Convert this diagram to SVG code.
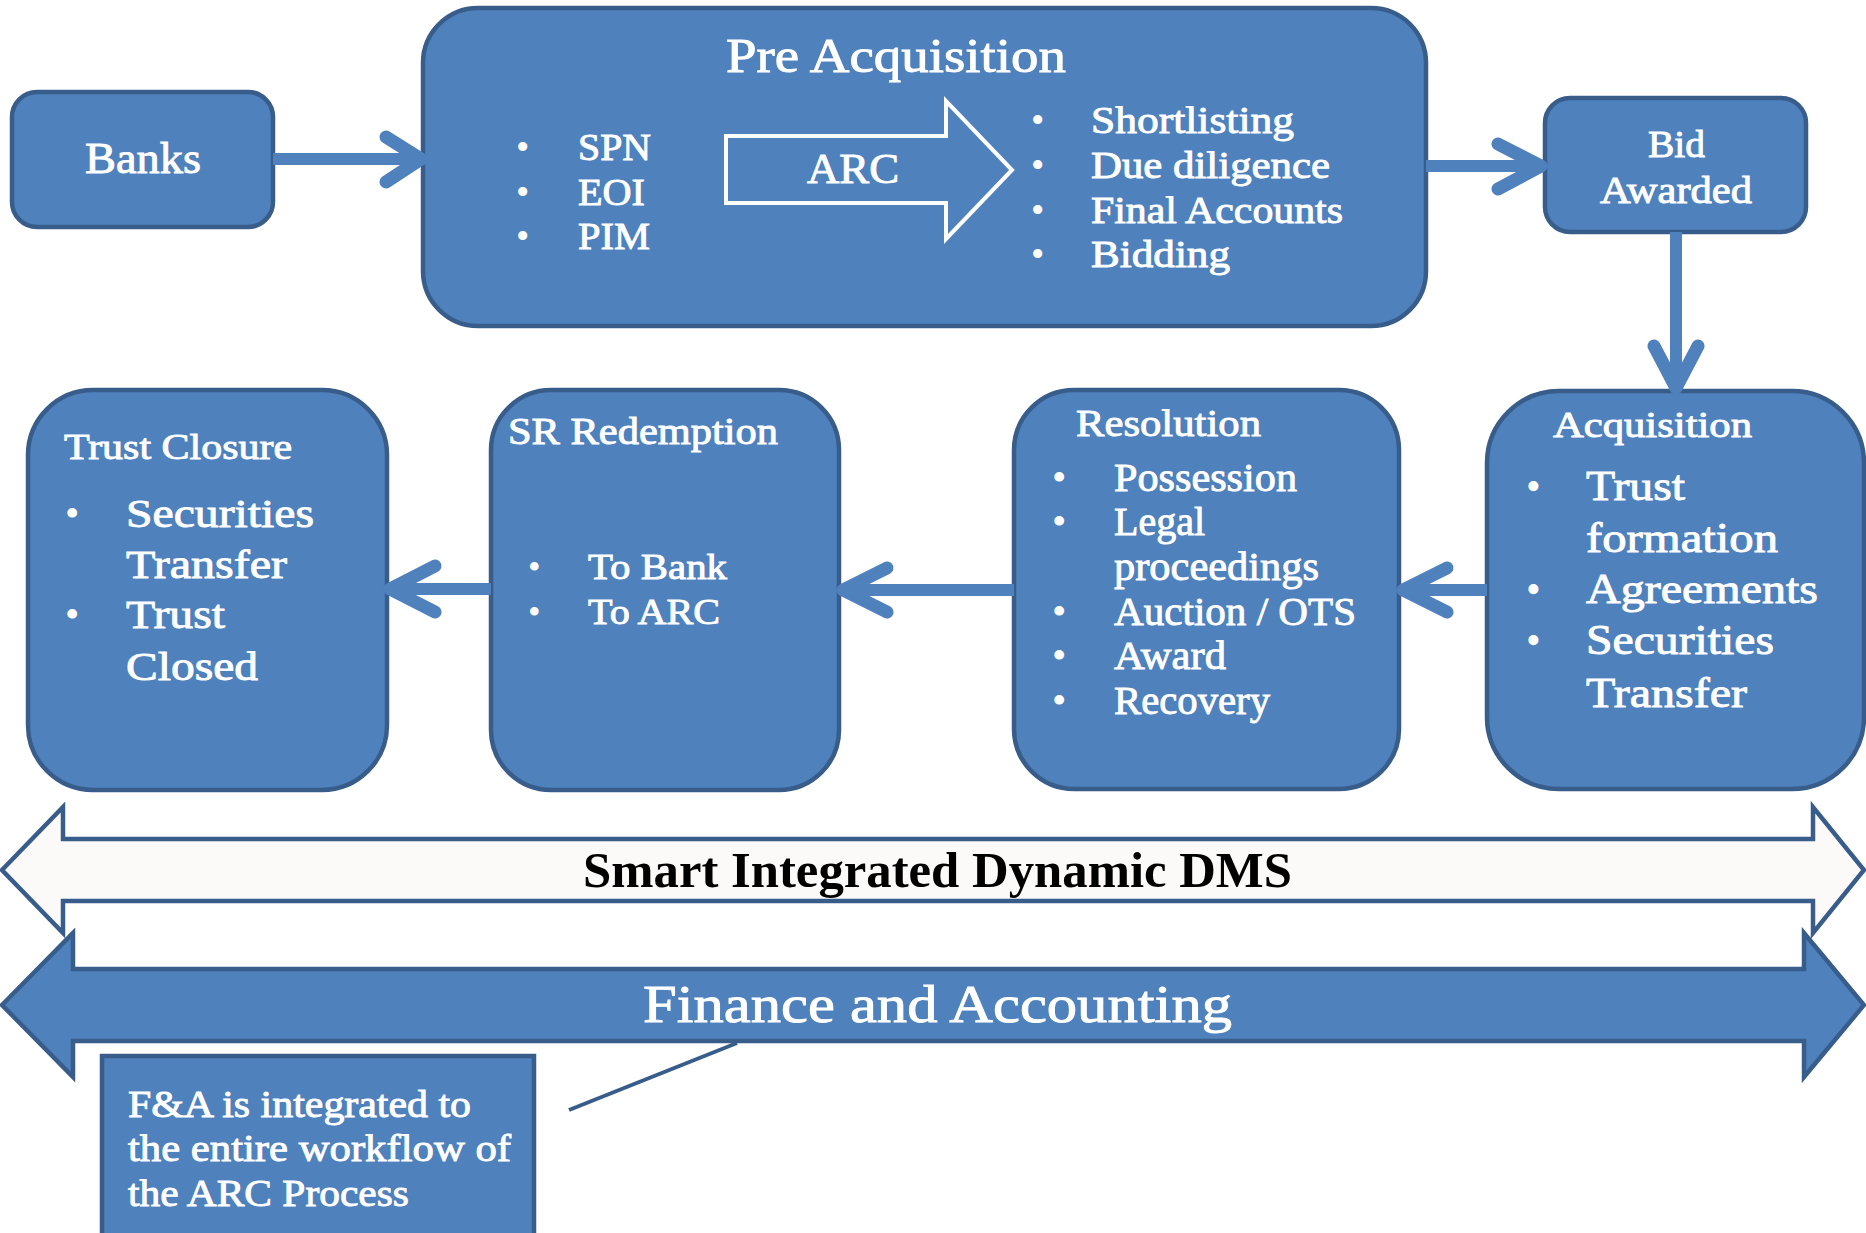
<svg xmlns="http://www.w3.org/2000/svg" width="1866" height="1233" viewBox="0 0 1866 1233">
<style>
.box{fill:#4F81BD;stroke:#385D8A;stroke-width:4.5}
.t{font-family:"Liberation Serif","Times New Roman",serif;fill:#FFFFFF}
.h{stroke:#FFFFFF;stroke-width:0.9}
.conn line{stroke:#4F81BD;stroke-width:12}
.conn polyline{fill:none;stroke:#4F81BD;stroke-width:13;stroke-linecap:round;stroke-linejoin:round}
.band{stroke:#385D8A;stroke-width:4.5;stroke-linejoin:miter}
</style>
<rect width="1866" height="1233" fill="#FFFFFF"/>

<g id="dms">
<path class="band" fill="#FBFAF8" d="M2,870 L63,807 L63,839 L1813,839 L1813,807 L1864,870 L1813,933 L1813,901 L63,901 L63,933 Z"/>
<text x="583" y="887" font-family="'Liberation Serif','Times New Roman',serif" font-weight="bold" font-size="50" fill="#000000" textLength="709" lengthAdjust="spacingAndGlyphs">Smart Integrated Dynamic DMS</text>
</g>

<g id="finance">
<path class="band" fill="#4F81BD" d="M2,1005 L73,933 L73,969 L1804,969 L1804,933 L1864,1005 L1804,1077 L1804,1041 L73,1041 L73,1077 Z"/>
<text class="t h" x="643" y="1022" font-size="53" textLength="589" lengthAdjust="spacingAndGlyphs">Finance and Accounting</text>
</g>

<g id="fa-callout">
<line x1="569" y1="1110" x2="737" y2="1043" stroke="#385D8A" stroke-width="4"/>
<rect class="box" x="102" y="1056" width="432" height="200"/>
<text class="t h" x="128" y="1117" font-size="38" textLength="343" lengthAdjust="spacingAndGlyphs">F&amp;A is integrated to</text>
<text class="t h" x="128" y="1161" font-size="38" textLength="383" lengthAdjust="spacingAndGlyphs">the entire workflow of</text>
<text class="t h" x="128" y="1206" font-size="38" textLength="281" lengthAdjust="spacingAndGlyphs">the ARC Process</text>
</g>

<g id="banks">
<rect class="box" x="12" y="92" width="261" height="135" rx="25" ry="25"/>
<text class="t h" x="85" y="173" font-size="44" textLength="116" lengthAdjust="spacingAndGlyphs">Banks</text>
</g>

<g id="pre-acquisition">
<rect class="box" x="423" y="8" width="1003" height="318" rx="55" ry="55"/>
<text class="t h" x="726" y="72" font-size="48" textLength="340" lengthAdjust="spacingAndGlyphs">Pre Acquisition</text>
<text class="t" x="516" y="160" font-size="38">•</text>
<text class="t" x="516" y="205" font-size="38">•</text>
<text class="t" x="516" y="249" font-size="38">•</text>
<text class="t h" x="578" y="160" font-size="38" textLength="73" lengthAdjust="spacingAndGlyphs">SPN</text>
<text class="t h" x="578" y="205" font-size="38" textLength="67" lengthAdjust="spacingAndGlyphs">EOI</text>
<text class="t h" x="578" y="249" font-size="38" textLength="72" lengthAdjust="spacingAndGlyphs">PIM</text>
<path d="M726,136 L946,136 L946,101 L1012,170 L946,239 L946,203 L726,203 Z" fill="none" stroke="#FFFFFF" stroke-width="4"/>
<text class="t h" x="807" y="183" font-size="42" textLength="92" lengthAdjust="spacingAndGlyphs">ARC</text>
<text class="t" x="1031" y="133" font-size="38">•</text>
<text class="t" x="1031" y="178" font-size="38">•</text>
<text class="t" x="1031" y="223" font-size="38">•</text>
<text class="t" x="1031" y="267" font-size="38">•</text>
<text class="t h" x="1091" y="133" font-size="38" textLength="203" lengthAdjust="spacingAndGlyphs">Shortlisting</text>
<text class="t h" x="1091" y="178" font-size="38" textLength="239" lengthAdjust="spacingAndGlyphs">Due diligence</text>
<text class="t h" x="1091" y="223" font-size="38" textLength="252" lengthAdjust="spacingAndGlyphs">Final Accounts</text>
<text class="t h" x="1091" y="267" font-size="38" textLength="139" lengthAdjust="spacingAndGlyphs">Bidding</text>
</g>

<g id="bid-awarded">
<rect class="box" x="1545" y="98" width="261" height="134" rx="25" ry="25"/>
<text class="t h" x="1648" y="157" font-size="38" textLength="57" lengthAdjust="spacingAndGlyphs" stroke-width="1.3">Bid</text>
<text class="t h" x="1600" y="203" font-size="38" textLength="152" lengthAdjust="spacingAndGlyphs" stroke-width="1.3">Awarded</text>
</g>

<g id="acquisition">
<rect class="box" x="1487" y="391" width="377" height="398" rx="72" ry="72"/>
<text class="t h" x="1553" y="437" font-size="35" textLength="199" lengthAdjust="spacingAndGlyphs" stroke-width="1.2">Acquisition</text>
<text class="t" x="1526" y="500" font-size="42">•</text>
<text class="t" x="1526" y="603" font-size="42">•</text>
<text class="t" x="1526" y="654" font-size="42">•</text>
<text class="t h" x="1586" y="500" font-size="42" textLength="99" lengthAdjust="spacingAndGlyphs" stroke-width="1.3">Trust</text>
<text class="t h" x="1586" y="552" font-size="42" textLength="192" lengthAdjust="spacingAndGlyphs" stroke-width="1.3">formation</text>
<text class="t h" x="1586" y="603" font-size="42" textLength="232" lengthAdjust="spacingAndGlyphs" stroke-width="1.3">Agreements</text>
<text class="t h" x="1586" y="654" font-size="42" textLength="188" lengthAdjust="spacingAndGlyphs" stroke-width="1.3">Securities</text>
<text class="t h" x="1586" y="707" font-size="42" textLength="161" lengthAdjust="spacingAndGlyphs" stroke-width="1.3">Transfer</text>
</g>

<g id="resolution">
<rect class="box" x="1014" y="390" width="385" height="399" rx="60" ry="60"/>
<text class="t h" x="1076" y="436" font-size="38" textLength="185" lengthAdjust="spacingAndGlyphs" stroke-width="1.2">Resolution</text>
<text class="t" x="1052" y="491" font-size="41">•</text>
<text class="t" x="1052" y="535" font-size="41">•</text>
<text class="t" x="1052" y="625" font-size="41">•</text>
<text class="t" x="1052" y="669" font-size="41">•</text>
<text class="t" x="1052" y="714" font-size="41">•</text>
<text class="t h" x="1114" y="491" font-size="41" textLength="183" lengthAdjust="spacingAndGlyphs" stroke-width="1.2">Possession</text>
<text class="t h" x="1114" y="535" font-size="41" textLength="91" lengthAdjust="spacingAndGlyphs" stroke-width="1.2">Legal</text>
<text class="t h" x="1114" y="580" font-size="41" textLength="205" lengthAdjust="spacingAndGlyphs" stroke-width="1.2">proceedings</text>
<text class="t h" x="1114" y="625" font-size="41" textLength="242" lengthAdjust="spacingAndGlyphs" stroke-width="1.2">Auction / OTS</text>
<text class="t h" x="1114" y="669" font-size="41" textLength="112" lengthAdjust="spacingAndGlyphs" stroke-width="1.2">Award</text>
<text class="t h" x="1114" y="714" font-size="41" textLength="156" lengthAdjust="spacingAndGlyphs" stroke-width="1.2">Recovery</text>
</g>

<g id="sr-redemption">
<rect class="box" x="491" y="390" width="348" height="400" rx="60" ry="60"/>
<text class="t h" x="508" y="444" font-size="38" textLength="270" lengthAdjust="spacingAndGlyphs">SR Redemption</text>
<text class="t" x="528" y="579" font-size="36">•</text>
<text class="t" x="528" y="624" font-size="36">•</text>
<text class="t h" x="588" y="579" font-size="36" textLength="139" lengthAdjust="spacingAndGlyphs">To Bank</text>
<text class="t h" x="588" y="624" font-size="36" textLength="132" lengthAdjust="spacingAndGlyphs">To ARC</text>
</g>

<g id="trust-closure">
<rect class="box" x="28" y="390" width="359" height="400" rx="65" ry="65"/>
<text class="t h" x="64" y="459" font-size="36" textLength="228" lengthAdjust="spacingAndGlyphs">Trust Closure</text>
<text class="t" x="65" y="527" font-size="41">•</text>
<text class="t" x="65" y="628" font-size="41">•</text>
<text class="t h" x="126" y="527" font-size="41" textLength="188" lengthAdjust="spacingAndGlyphs">Securities</text>
<text class="t h" x="126" y="578" font-size="41" textLength="161" lengthAdjust="spacingAndGlyphs">Transfer</text>
<text class="t h" x="126" y="628" font-size="41" textLength="99" lengthAdjust="spacingAndGlyphs">Trust</text>
<text class="t h" x="126" y="680" font-size="41" textLength="132" lengthAdjust="spacingAndGlyphs">Closed</text>
</g>

<g id="connectors" class="conn">
<line x1="273" y1="159" x2="416" y2="159"/>
<polyline points="386,137 421,159 386,182"/>
<line x1="1426" y1="166" x2="1538" y2="166"/>
<polyline points="1498,144 1541,166 1498,189"/>
<line x1="1676" y1="232" x2="1676" y2="384"/>
<polyline points="1654,346 1676,388 1698,346"/>
<line x1="1487" y1="590" x2="1406" y2="590"/>
<polyline points="1447,568 1403,590 1447,612"/>
<line x1="1014" y1="590" x2="848" y2="590"/>
<polyline points="887,568 843,590 887,612"/>
<line x1="491" y1="589" x2="395" y2="589"/>
<polyline points="435,566 390,589 435,612"/>
</g>
</svg>
